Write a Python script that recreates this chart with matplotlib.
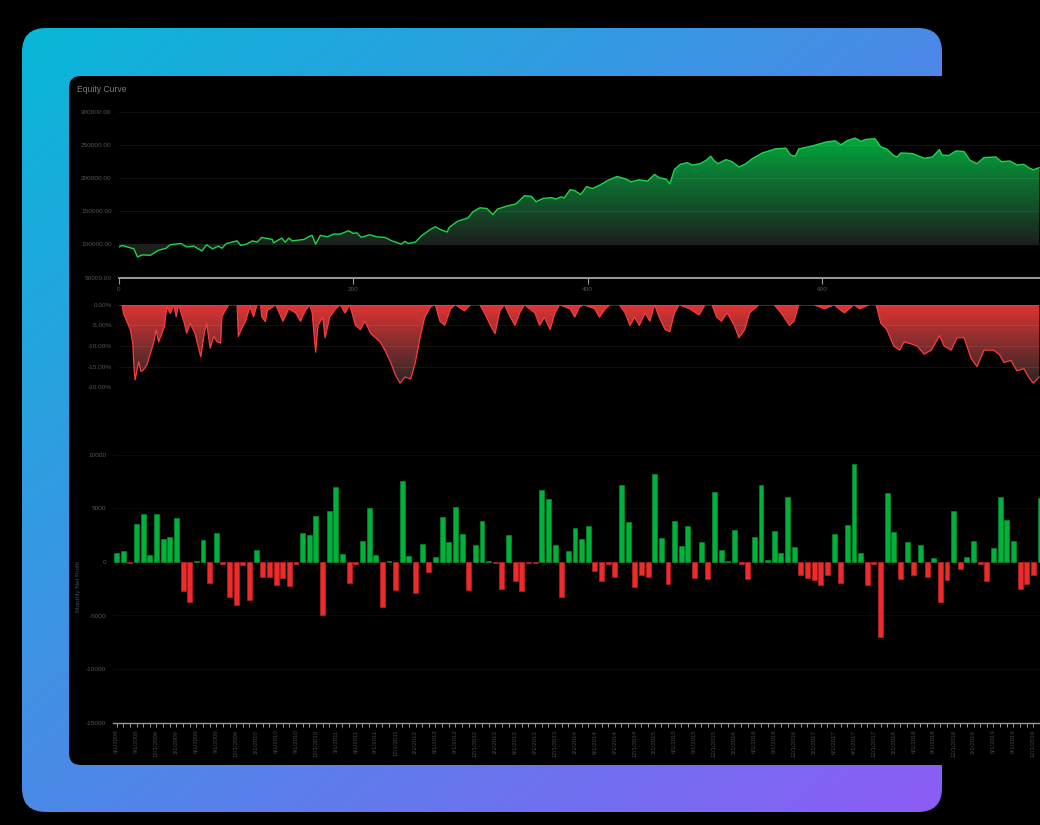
import numpy as np
import pandas as pd
import matplotlib
matplotlib.use("Agg")
import matplotlib.pyplot as plt
from matplotlib.patches import FancyBboxPatch, Polygon
from matplotlib.colors import to_rgb

plt.rcParams['font.family'] = ['Liberation Sans', 'DejaVu Sans']

# ---------------- data ----------------
equity_trade_no = [0, 3, 13, 16, 20, 27, 34, 40, 44, 48, 53, 58, 64, 71, 75, 80, 85, 88, 92, 101,
                   104, 109, 114, 118, 122, 131, 132, 139, 142, 145, 148, 158, 163, 165, 168, 172, 178, 183, 189, 196,
                   200, 203, 207, 214, 220, 227, 233, 241, 244, 247, 253, 258, 265, 270, 274, 280, 282, 289, 298, 302,
                   308, 314, 319, 323, 330, 339, 346, 352, 356, 362, 369, 373, 377, 380, 385, 389, 394, 399, 404, 410,
                   417, 425, 433, 437, 444, 451, 457, 461, 467, 470, 474, 479, 485, 489, 496, 501, 505, 508, 511, 518,
                   523, 529, 535, 540, 549, 560, 569, 573, 577, 580, 591, 603, 611, 616, 621, 628, 633, 637, 645, 650,
                   655, 661, 664, 667, 677, 687, 694, 700, 702, 708, 714, 721, 726, 732, 738, 748, 753, 760, 766, 772,
                   776, 780, 785]
equity_value = [96000, 98500, 93300, 81000, 84100, 83600, 91300, 93900, 99400, 100500, 101500, 96300, 97400, 90200, 99400, 93300, 97400, 94300, 101500, 105500,
                98500, 100500, 105500, 103500, 110700, 107600, 102400, 109600, 103500, 109600, 105500, 107600, 112700, 113800, 100500, 113800, 111600, 115700, 115700, 120800,
                116800, 117700, 110700, 114700, 111600, 110700, 105500, 100500, 104600, 101500, 103500, 112700, 121900, 126900, 122900, 118800, 126000, 135200, 140200, 149400,
                155500, 154400, 145300, 153500, 157500, 161600, 173800, 172800, 164700, 169700, 170800, 168800, 172000, 170500, 183000, 181500, 175400, 187600, 184600, 189600,
                196800, 202900, 198800, 194800, 197900, 195800, 206000, 200900, 198800, 191700, 213600, 221300, 223800, 220200, 222300, 227400, 233500, 226300, 222300, 228400,
                225300, 217200, 222300, 229400, 238500, 244600, 245700, 235500, 233500, 244600, 248800, 254900, 256900, 250800, 256900, 261000, 256000, 259000, 260000, 247800,
                244600, 234500, 232400, 238500, 237600, 230400, 232400, 243700, 235500, 234500, 241600, 240600, 227400, 222300, 231500, 232400, 225300, 226300, 220200, 221300,
                216200, 213100, 216200]

drawdown_trade_no = [0, 3, 4, 7, 10, 12, 13, 14, 17, 19, 21, 24, 27, 30, 32, 34, 39, 41, 44, 47,
                     49, 51, 56, 58, 61, 65, 70, 73, 75, 78, 81, 84, 87, 88, 91, 94, 101, 102, 105, 108,
                     112, 115, 118, 121, 122, 125, 127, 129, 134, 140, 145, 151, 155, 159, 163, 165, 168, 170, 174, 176,
                     180, 185, 189, 193, 197, 202, 206, 210, 215, 219, 223, 227, 232, 236, 240, 244, 249, 253, 257, 261,
                     266, 270, 274, 278, 283, 287, 295, 300, 308, 312, 317, 321, 325, 329, 334, 338, 342, 346, 355, 359,
                     363, 368, 372, 376, 385, 389, 393, 397, 406, 410, 415, 419, 427, 432, 436, 440, 444, 449, 453, 457,
                     461, 466, 470, 474, 478, 487, 495, 500, 506, 510, 514, 519, 525, 529, 534, 538, 542, 546, 559, 565,
                     572, 576, 580, 593, 602, 610, 619, 627, 632, 640, 646, 650, 655, 661, 666, 670, 676, 681, 687, 693,
                     700, 704, 710, 715, 721, 727, 732, 738, 746, 751, 755, 761, 766, 772, 776, 780, 785]
drawdown_pct = [0, 0, -2.1, -4.1, -6.1, -9.3, -15, -18.2, -13.8, -16.2, -15.8, -14.6, -11.8, -9, -6.1, -9, -5.3, -0.5, -2.1, 0,
                -2.9, 0, -4.5, -6.9, -4.5, -6.9, -12.6, -6.9, -4.5, -10.5, -7.7, -9, -9.3, -2.9, -1.3, 0, 0, -7.7, -5.7, -4.1,
                -0.5, -2.9, 0, 0, -2.9, -4.1, -1.3, -1, 0, -4, -1, -2, -4, -1.5, 0, -2, -11.5, -5, -3, -8,
                -3, -1, 0, -2, 0, -5, -6, -4, -7, -8, -9, -11, -14, -17, -19, -17.5, -18, -14, -8, -3,
                -0.5, 0, -4, -5, -1, 0, -1.5, 0, 0, -2, -5, -7, -1.5, 0, -3, -5, -2, 0, -2, -5,
                -3, -6, -2, 0, -1, -3, -0.5, 0, -1, -3, -1, 0, 0, -2, -5, -3, -5, -2, -4, 0,
                -3, -6, -6.5, -2, 0, -1, -2.5, 0, 0, -3, -4, -2, -5, -8, -6, -2, -1, 0, 0, -2,
                -5, -4, 0, 0, -1, 0, -2, 0, -1, 0, 0, -4.5, -6, -10, -11, -9, -9.5, -10, -12, -11,
                -7.5, -10, -11, -8, -8, -13, -15, -11, -11, -12, -14, -13.5, -16, -15.5, -17.5, -19, -17.5]

monthly_net_profit = [810, 1000, -60, 3500, 4440, 680, 4440, 2140, 2360, 4100,
                      -2670, -3700, 120, 2000, -1930, 2670, -200, -3260, -4000, -280,
                      -3540, 1090, -1370, -1400, -2170, -1490, -2240, -190, 2730, 2480,
                      4320, -5000, 4780, 6960, 710, -1930, -200, 1960, 5000, 650,
                      -4250, 100, -2580, 7580, 590, -2890, 1680, -930, 500, 4190,
                      1890, 5120, 2580, -2580, 1580, 3820, 100, -60, -2550, 2480,
                      -1740, -2670, -60, -60, 6710, 5900, 1550, -3260, 1020, 3200,
                      2140, 3320, -870, -1740, -190, -1400, 7140, 3700, -2330, -1210,
                      -1400, 8170, 2270, -2050, 3820, 1490, 3320, -1490, 1890, -1550,
                      6550, 1120, 100, 2980, -160, -1580, 2330, 7140, 160, 2890,
                      840, 6060, 1370, -1180, -1520, -1710, -2200, -1210, 2610, -1930,
                      3420, 9130, 810, -2200, -160, -6960, 6460, 2760, -1550, 1830,
                      -1180, 1610, -1430, 400, -3700, -1650, 4720, -620, 470, 1930,
                      -160, -1740, 1340, 6020, 3910, 1960, -2520, -2020, -1180, 5960]
month_labels = [f"{d.month}/1/{d.year}" for d in
                pd.date_range("2008-06-01", periods=len(monthly_net_profit), freq="MS")]

equity_ticks = [50000, 100000, 150000, 200000, 250000, 300000]
trade_ticks = [0, 200, 400, 600]
drawdown_ticks = [0, -5, -10, -15, -20]
profit_ticks = [10000, 5000, 0, -5000, -10000, -15000]

# ---------------- figure ----------------
W, H = 1040, 825
fig = plt.figure(figsize=(W / 100, H / 100), dpi=100, facecolor='black')


def add_px_axes(left, top, right, bottom):
    ax = fig.add_axes([left / W, 1 - bottom / H, (right - left) / W, (bottom - top) / H])
    ax.set_facecolor('none')
    return ax


# background frame with gradient
bg = fig.add_axes([0, 0, 1, 1])
bg.axis('off')
yy, xx = np.mgrid[0:H, 0:W]
t = np.clip(((xx - 22) / 920 + (yy - 28) / 784) / 2, 0, 1)[..., None]
c0 = np.array(to_rgb('#08b8d8'))
c1 = np.array(to_rgb('#8d5cf6'))
img = c0 * (1 - t) + c1 * t
frame = FancyBboxPatch((22, 28), 920, 784, boxstyle='round,pad=0,rounding_size=24',
                       facecolor='none', edgecolor='none')
bg.add_patch(frame)
im = bg.imshow(img, extent=(0, W, H, 0), interpolation='bilinear', zorder=1)
im.set_clip_path(frame)
panel = FancyBboxPatch((69, 76), 1100, 689, boxstyle='round,pad=0,rounding_size=12',
                       facecolor='black', edgecolor='none', zorder=2)
bg.add_patch(panel)
bg.set_xlim(0, W)
bg.set_ylim(H, 0)


def gradient_fill(ax, x, y, base, v_a, c_a, v_b, c_b, xlim, ylim):
    x = np.asarray(x, float)
    y = np.asarray(y, float)
    verts = np.column_stack([np.r_[x[0], x, x[-1]], np.r_[base, y, base]])
    poly = Polygon(verts, closed=True, facecolor='none', edgecolor='none')
    ax.add_patch(poly)
    v = np.linspace(ylim[0], ylim[1], 400)
    tt = np.clip((v - v_a) / (v_b - v_a), 0, 1)[:, None]
    cols = np.array(to_rgb(c_a)) * (1 - tt) + np.array(to_rgb(c_b)) * tt
    grad = np.repeat(cols[:, None, :], 2, axis=1)
    gim = ax.imshow(grad, extent=(xlim[0], xlim[1], ylim[0], ylim[1]), origin='lower',
                    aspect='auto', zorder=1, interpolation='bilinear')
    gim.set_clip_path(poly)
    ax.set_xlim(*xlim)
    ax.set_ylim(*ylim)


label_kw = dict(labelsize=4.6, labelcolor='#555555')
x0_px = 118.7
px_per_trade = 1.1725
x_max = (W - x0_px) / px_per_trade

# ---------------- equity curve ----------------
fig.text(77 / W, 1 - 90 / H, "Equity Curve", fontsize=6.2, color='#7c7c7c', va='center', ha='left')
ax1 = add_px_axes(x0_px, 112.3, W, 277.5)
gradient_fill(ax1, equity_trade_no, equity_value, 100000, 100000, '#1c201d', 262000, '#03a83f',
              (0, x_max), (50000, 300000))
ax1.plot(equity_trade_no, equity_value, color='#1fd34b', lw=1.0, zorder=3, solid_joinstyle='round')
ax1.set_yticks(equity_ticks)
ax1.set_yticklabels([f"{v:.2f}" for v in equity_ticks])
ax1.set_xticks(trade_ticks)
ax1.set_xticklabels([str(v) for v in trade_ticks])
ax1.tick_params(axis='y', length=0, pad=5, **label_kw)
ax1.tick_params(axis='x', length=4, width=0.8, color='#9a9a9a', pad=3, **label_kw)
ax1.grid(axis='y', color='white', alpha=0.07, lw=0.8)
ax1.set_axisbelow(False)
for s in ['top', 'right', 'left']:
    ax1.spines[s].set_visible(False)
ax1.spines['bottom'].set_color('#a8a8a8')
ax1.spines['bottom'].set_linewidth(1.3)

# ---------------- drawdown ----------------
ax2 = add_px_axes(x0_px, 304.7, W, 387.3)
gradient_fill(ax2, drawdown_trade_no, drawdown_pct, 0, 0, '#e03434', -19.5, '#262626',
              (0, x_max), (-20, 0))
ax2.plot(drawdown_trade_no, drawdown_pct, color='#ff3b3b', lw=0.9, zorder=3)
ax2.set_yticks(drawdown_ticks)
ax2.set_yticklabels([f"{v:.2f}%" for v in drawdown_ticks])
ax2.set_xticks([])
ax2.tick_params(axis='y', length=0, pad=5, **label_kw)
ax2.grid(axis='y', color='white', alpha=0.07, lw=0.8)
ax2.set_axisbelow(False)
for s in ax2.spines.values():
    s.set_visible(False)

# ---------------- monthly net profit ----------------
bar_px = 6.667
ax3 = add_px_axes(113.3, 454.7, W, 722.7)
idx = np.arange(len(monthly_net_profit))
vals = np.array(monthly_net_profit)
colors = np.where(vals >= 0, '#00b23a', '#ee2b2b')
edges = np.where(vals >= 0, '#018a2f', '#b82020')
ax3.bar(idx, vals, width=0.74, color=colors, edgecolor=edges, linewidth=0.5, zorder=3)
ax3.set_xlim(-0.5, -0.5 + (W - 113.3) / bar_px)
ax3.set_ylim(-15000, 10000)
ax3.set_yticks(profit_ticks)
ax3.set_yticklabels([str(v) for v in profit_ticks])
ax3.tick_params(axis='y', length=0, pad=5, **label_kw)
ax3.set_xticks(idx)
ax3.set_xticklabels([lab if i % 3 == 0 else '' for i, lab in enumerate(month_labels)],
                    rotation=90)
ax3.tick_params(axis='x', length=3, width=0.7, color='#9a9a9a', pad=2,
                labelsize=4.4, labelcolor='#474747')
ax3.grid(axis='y', color='white', alpha=0.045, lw=0.8)
ax3.set_axisbelow(True)
for s in ['top', 'right', 'left']:
    ax3.spines[s].set_visible(False)
ax3.spines['bottom'].set_color('#9a9a9a')
ax3.spines['bottom'].set_linewidth(1.0)
fig.text(78.3 / W, 1 - 587 / H, "Monthly Net Profit", rotation=90, fontsize=4.6,
         color='#4a4a4a', ha='center', va='center')

fig.savefig('out.png', dpi=100, facecolor='black')
